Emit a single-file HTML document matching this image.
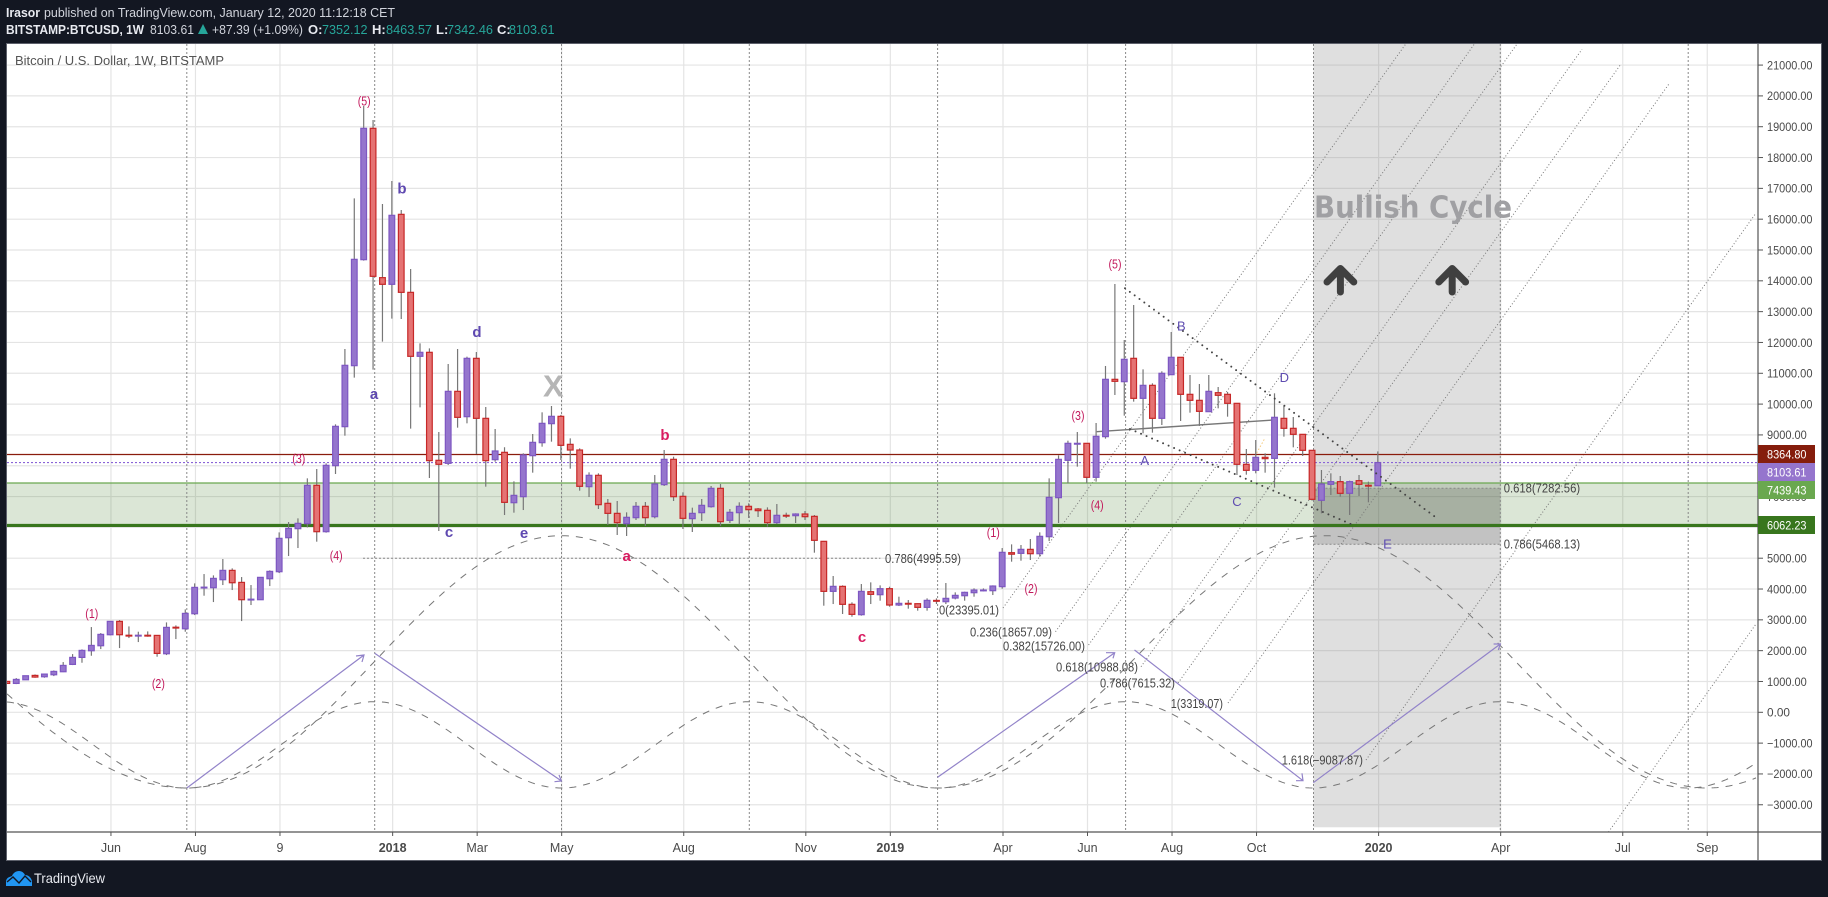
<!DOCTYPE html>
<html lang="en">
<head>
<meta charset="utf-8">
<title>BTCUSD 1W chart</title>
<style>
html,body{margin:0;padding:0;background:#131722;width:1828px;height:897px;overflow:hidden}
svg{display:block;font-family:"Liberation Sans",Arial,sans-serif}
.hd{font-size:13px;fill:#d1d4dc}
.hb{font-size:13px;fill:#e8eaf0;font-weight:bold}
.teal{font-size:13px;fill:#26a69a}
.fib{font-size:12.5px;fill:#444;dominant-baseline:central}
.wave{font-size:13px;fill:#c2185b;text-anchor:middle;dominant-baseline:central}
.crim{font-size:15px;fill:#d81b60;font-weight:bold;text-anchor:middle;dominant-baseline:central}
.pb{font-size:15px;fill:#5e48b0;font-weight:bold;text-anchor:middle;dominant-baseline:central}
.pr{font-size:13px;fill:#5e4cb0;text-anchor:middle;dominant-baseline:central}
.vd{stroke:#888;stroke-width:1;stroke-dasharray:2 2;fill:none}
.fan{stroke:#777;stroke-width:1;stroke-dasharray:1 2.2;fill:none}
.wedge{stroke:#444;stroke-width:2;stroke-dasharray:0 6;stroke-linecap:round;fill:none}
.arrow{stroke:#9283c9;stroke-width:1.2;fill:none}
</style>
</head>
<body>
<svg id="root" width="1828" height="897" viewBox="0 0 1828 897">
  <defs>
    <clipPath id="pane"><rect x="7" y="44" width="1751" height="788"/></clipPath>
  </defs>
  <rect x="0" y="0" width="1828" height="897" fill="#131722"/>

  <g>
    <text x="6" y="17" class="hb" textLength="34" lengthAdjust="spacingAndGlyphs">Irasor</text>
    <text x="44" y="17" class="hd" textLength="351" lengthAdjust="spacingAndGlyphs">published on TradingView.com, January 12, 2020 11:12:18 CET</text>
    <text x="6" y="34" class="hb" textLength="138" lengthAdjust="spacingAndGlyphs">BITSTAMP:BTCUSD, 1W</text>
    <text x="150" y="34" class="hd" textLength="44" lengthAdjust="spacingAndGlyphs">8103.61</text>
    <polygon points="198,34 208,34 203,24" fill="#26a69a"/>
    <text x="212" y="34" class="hd" textLength="91" lengthAdjust="spacingAndGlyphs">+87.39 (+1.09%)</text>
    <text x="308" y="34" class="hb">O:</text>
    <text x="322" y="34" class="teal" textLength="45.5" lengthAdjust="spacingAndGlyphs">7352.12</text>
    <text x="372" y="34" class="hb">H:</text>
    <text x="386" y="34" class="teal" textLength="46" lengthAdjust="spacingAndGlyphs">8463.57</text>
    <text x="436" y="34" class="hb">L:</text>
    <text x="447" y="34" class="teal" textLength="46" lengthAdjust="spacingAndGlyphs">7342.46</text>
    <text x="497" y="34" class="hb">C:</text>
    <text x="509" y="34" class="teal" textLength="45.5" lengthAdjust="spacingAndGlyphs">8103.61</text>
  </g>

  <rect x="6.5" y="43.5" width="1815" height="817" fill="#ffffff" stroke="#5d606b" stroke-width="1"/>

  <g id="grid-layer"></g>

  <rect x="1313.5" y="44" width="186.8" height="783.3" fill="rgba(128,128,128,.25)"/>
  <g id="zone-layer"></g>
  <rect id="fib-rect" x="1313.5" y="488.3" width="186.8" height="56" fill="rgba(0,0,0,.13)"/>

  <g clip-path="url(#pane)">
    <g>
      <line class="vd" x1="186.8" y1="44" x2="186.8" y2="832"/>
      <line class="vd" x1="374.7" y1="44" x2="374.7" y2="832"/>
      <line class="vd" x1="561.5" y1="44" x2="561.5" y2="832"/>
      <line class="vd" x1="749.3" y1="44" x2="749.3" y2="832"/>
      <line class="vd" x1="937.6" y1="44" x2="937.6" y2="832"/>
      <line class="vd" x1="1125.6" y1="44" x2="1125.6" y2="832"/>
      <line class="vd" x1="1313.5" y1="44" x2="1313.5" y2="832"/>
      <line class="vd" x1="1500.3" y1="44" x2="1500.3" y2="832"/>
      <line class="vd" x1="1688.2" y1="44" x2="1688.2" y2="832"/>
    </g>
    <g id="sine-layer"></g>
    <g>
      <line class="fan" x1="1003" y1="608" x2="1405.7" y2="44"/>
      <line class="fan" x1="1055.5" y1="631.7" x2="1474.4" y2="44"/>
      <line class="fan" x1="1088.6" y1="645" x2="1517" y2="44"/>
      <line class="fan" x1="1141" y1="666.7" x2="1582" y2="49.3"/>
      <line class="fan" x1="1178" y1="683" x2="1620.5" y2="64.7"/>
      <line class="fan" x1="1228" y1="703" x2="1668.7" y2="84.3"/>
      <line class="fan" x1="1366" y1="760" x2="1756" y2="213"/>
      <line class="fan" x1="1608.5" y1="832" x2="1756" y2="624"/>
    </g>
    <g>
      <line class="vd" x1="363" y1="558.3" x2="880.4" y2="558.3"/>
      <line class="vd" x1="1313.5" y1="488.3" x2="1500.3" y2="488.3"/>
      <line class="vd" x1="1313.5" y1="544.3" x2="1500.3" y2="544.3"/>
    </g>
    <g>
      <path class="arrow" d="M186.8 788L364 655M356 656L364 655L362 662"/>
      <path class="arrow" d="M374.7 653.3L561.5 781M554.5 781.7L561.5 781L559 775"/>
      <path class="arrow" d="M937.6 777.3L1114.7 652.7M1106 652.7L1114.7 652.7L1113 658.3"/>
      <path class="arrow" d="M1134.5 650L1303 780.7M1296 780.7L1303 780.7L1302 773.3"/>
      <path class="arrow" d="M1313.3 782.7L1500.3 644M1493.6 644L1500.3 644L1498.3 650"/>
    </g>
    <g id="level-layer"></g>
    <line x1="1096.7" y1="431.7" x2="1273.3" y2="420" stroke="#777" stroke-width="1.4"/>
    <line x1="1256.7" y1="453" x2="1265" y2="438" stroke="#f5c97a" stroke-width="1" stroke-dasharray="1.5 2"/>
    <g id="candle-layer"></g>
    <line class="wedge" x1="1125" y1="288.3" x2="1435" y2="516.7"/>
    <line class="wedge" x1="1130" y1="429" x2="1355.5" y2="526"/>
  </g>

  <g>
    <text class="wave" x="364.2" y="101" textLength="13" lengthAdjust="spacingAndGlyphs">(5)</text>
    <text class="wave" x="91.8" y="613.3" textLength="13" lengthAdjust="spacingAndGlyphs">(1)</text>
    <text class="wave" x="158.4" y="683.3" textLength="13" lengthAdjust="spacingAndGlyphs">(2)</text>
    <text class="wave" x="298.8" y="458.3" textLength="13" lengthAdjust="spacingAndGlyphs">(3)</text>
    <text class="wave" x="336.2" y="555.3" textLength="13" lengthAdjust="spacingAndGlyphs">(4)</text>
    <text class="wave" x="993.3" y="532.3" textLength="13" lengthAdjust="spacingAndGlyphs">(1)</text>
    <text class="wave" x="1031" y="588.3" textLength="13" lengthAdjust="spacingAndGlyphs">(2)</text>
    <text class="wave" x="1078" y="415.3" textLength="13" lengthAdjust="spacingAndGlyphs">(3)</text>
    <text class="wave" x="1097.2" y="505" textLength="13" lengthAdjust="spacingAndGlyphs">(4)</text>
    <text class="wave" x="1115" y="264" textLength="13" lengthAdjust="spacingAndGlyphs">(5)</text>
    <text class="crim" x="664.9" y="435.7">b</text>
    <text class="crim" x="626.7" y="556.7">a</text>
    <text class="crim" x="862" y="637.3">c</text>
    <text class="pb" x="374" y="394.3">a</text>
    <text class="pb" x="402" y="189">b</text>
    <text class="pb" x="449" y="532.7">c</text>
    <text class="pb" x="477" y="332.3">d</text>
    <text class="pb" x="524" y="533.3">e</text>
    <text class="pr" x="1144.7" y="460.7">A</text>
    <text class="pr" x="1181.3" y="326">B</text>
    <text class="pr" x="1237" y="501.7">C</text>
    <text class="pr" x="1284.3" y="377.7">D</text>
    <text class="pr" x="1387.5" y="544">E</text>
    <text x="553.3" y="386" font-size="31" font-weight="bold" fill="#b5b5b5" text-anchor="middle" dominant-baseline="central">X</text>
  </g>

  <g>
    <text class="fib" x="885" y="559" textLength="76" lengthAdjust="spacingAndGlyphs">0.786(4995.59)</text>
    <text class="fib" x="939" y="610.7" textLength="60" lengthAdjust="spacingAndGlyphs">0(23395.01)</text>
    <text class="fib" x="970" y="632.7" textLength="82" lengthAdjust="spacingAndGlyphs">0.236(18657.09)</text>
    <text class="fib" x="1003" y="646.7" textLength="82" lengthAdjust="spacingAndGlyphs">0.382(15726.00)</text>
    <text class="fib" x="1056" y="667.7" textLength="82" lengthAdjust="spacingAndGlyphs">0.618(10988.08)</text>
    <text class="fib" x="1100" y="683.7" textLength="75" lengthAdjust="spacingAndGlyphs">0.786(7615.32)</text>
    <text class="fib" x="1170.7" y="704" textLength="52.3" lengthAdjust="spacingAndGlyphs">1(3319.07)</text>
    <text class="fib" x="1281.7" y="760.7" textLength="81.3" lengthAdjust="spacingAndGlyphs">1.618(−9087.87)</text>
    <text class="fib" x="1503.7" y="488.7" textLength="76.4" lengthAdjust="spacingAndGlyphs">0.618(7282.56)</text>
    <text class="fib" x="1503.7" y="544.7" textLength="76.4" lengthAdjust="spacingAndGlyphs">0.786(5468.13)</text>
  </g>

  <text x="1314" y="208" font-family="'DejaVu Sans',sans-serif" font-size="30" font-weight="bold" fill="#a0a0a3" dominant-baseline="central" textLength="198" lengthAdjust="spacingAndGlyphs">Bullish Cycle</text>
  <path d="M1340.4 292V270M1327 282L1340.4 268.5L1353.8 282" fill="none" stroke="#404040" stroke-width="7" stroke-linecap="round" stroke-linejoin="round"/>
  <path d="M1452.2 292V270M1438.8 282L1452.2 268.5L1465.6 282" fill="none" stroke="#404040" stroke-width="7" stroke-linecap="round" stroke-linejoin="round"/>

  <text x="15" y="65" font-size="12.5" fill="#555" textLength="209" lengthAdjust="spacingAndGlyphs">Bitcoin / U.S. Dollar, 1W, BITSTAMP</text>

  <line x1="7" y1="832" x2="1821" y2="832" stroke="#555" stroke-width="1.2"/>
  <line x1="1758" y1="44" x2="1758" y2="860" stroke="#555" stroke-width="1.2"/>
  <g id="time-axis"></g>
  <g id="price-axis"></g>
  <g id="price-tags"></g>

  <g>
    <path d="M6 886V881C7 877 10 877 12 876C13 873 16 871 19 871C22 871 24 873 25 875C28 875 31 877 32 881V886Z" fill="#2196f3"/>
    <path d="M7 882L13 877L19 883L25 876L31 882" fill="none" stroke="#131722" stroke-width="1.4"/>
    <text x="34" y="883" font-size="14" fill="#e8eaf0" textLength="71" lengthAdjust="spacingAndGlyphs">TradingView</text>
  </g>
</svg>

<script>
const opens=[1002,937,1056,1197,1153,1218,1316,1554,1781,1997,2160,2517,2950,2500,2490,2500,2495,1900,2760,2711,3198,4045,4042,4302,4605,4215,3655,3653,4334,4562,5665,5958,6120,7364,5860,8002,9268,11247,14686,18948,14103,13886,16157,13626,11550,11680,8176,8078,10414,9592,11485,9538,8197,8435,6801,6996,8327,8748,9365,9603,8694,8510,7321,7689,6780,6455,6120,6315,6683,6347,7386,8208,7007,6283,6477,6672,7267,6228,6477,6683,6596,6553,6153,6391,6380,6434,6358,5547,3924,4086,3503,3167,3913,3816,4011,3481,3535,3524,3405,3630,3589,3708,3783,3881,3946,3946,4076,5179,5157,5287,5146,5698,6964,8176,8700,8727,7624,8944,10804,10728,11485,10187,10609,9538,10955,11518,10317,10122,9755,10371,10317,10025,8046,7851,8273,8240,9538,9214,9019,8500,6878,7397,7484,7105,7516,7365,7352.12];
const highs=[1010,1110,1186,1229,1240,1359,1630,1889,2041,2766,2571,2950,2993,2787,2615,2625,2495,2917,2820,3339,4183,4486,4443,4973,4670,4389,4129,4378,4605,5838,6174,6293,7591,7894,8078,9343,11788,16677,19673,19218,16493,17239,16298,14383,11971,11809,9095,11301,11788,11539,11690,9906,9192,8600,7494,8403,9030,9733,9938,9650,8889,8564,7786,7754,6921,6856,6488,6823,6823,7699,8511,8294,7137,6640,6921,7343,7407,6596,6813,6780,6629,6650,6758,6477,6456,6531,6402,5560,4422,4119,3568,4162,4216,4119,4075,3751,3643,3535,3697,3697,4195,3892,3913,4022,4020,4119,5330,5449,5428,5622,5839,7591,8337,8813,9095,8730,9387,11237,13897,12080,13216,11128,10674,11063,12340,11520,10944,10652,10944,10555,10393,10030,8543,8835,8403,10350,9949,9582,9020,8510,7862,7754,7667,7516,7700,7484,8463.57];
const lows=[930,915,1056,1121,1121,1175,1305,1532,1608,1835,2051,2495,2084,2409,2279,2452,1803,1857,2376,2614,3155,3783,3577,4129,3967,2960,3480,3653,4096,4518,5070,5330,6001,5536,5828,7732,8975,10857,14654,11117,12026,12772,12761,9203,9895,7602,5882,8024,9235,9376,8381,7321,8132,6401,6477,6563,7775,8619,8781,8186,7905,7191,6985,6596,6077,5753,5720,6239,6044,6293,7343,6856,5947,5850,6207,6640,6044,6142,6099,6304,6337,6023,6110,6304,6142,6239,5179,3459,3513,3189,3102,3135,3513,3621,3427,3448,3362,3297,3297,3513,3513,3664,3621,3751,3920,3805,4011,4887,4919,4941,5049,5557,6142,7429,7970,7429,7484,8879,10296,9625,10079,9052,9073,9322,10950,9452,9722,9290,9750,9863,9592,7700,7710,7754,7775,7289,8944,8597,8316,6867,6456,7051,6996,6402,7018,6813,7342.46];
const closes=[937,1067,1186,1143,1240,1327,1521,1781,2008,2170,2528,2950,2517,2490,2500,2490,1911,2755,2750,3209,4053,4060,4345,4605,4204,3653,3670,4378,4572,5644,5968,6131,7364,5860,8013,9278,11258,14697,18948,14146,13886,16125,13626,11550,11680,8165,8046,10414,9570,11485,9538,8165,8479,6812,7039,8349,8759,9376,9603,8662,8510,7332,7689,6737,6455,6153,6326,6683,6315,7407,8208,6996,6293,6455,6715,7267,6185,6488,6683,6575,6542,6153,6391,6380,6434,6347,5580,3924,4086,3503,3178,3924,3827,4011,3481,3535,3525,3405,3632,3610,3697,3794,3892,3967,3967,4097,5190,5130,5287,5146,5709,6974,8207,8727,8727,7624,8954,10804,10739,11453,10187,10609,9538,10999,11518,10317,10122,9765,10414,10285,10025,8046,7851,8273,8230,9571,9214,9019,8500,6910,7408,7484,7105,7484,7397,7342,8103.61];
const priceTicks=[21000,20000,19000,18000,17000,16000,15000,14000,13000,12000,11000,10000,9000,8000,7000,6000,5000,4000,3000,2000,1000,0,-1000,-2000,-3000];
const timeTickLabels=["Jun","Aug","9","2018","Mar","May","Aug","Nov","2019","Apr","Jun","Aug","Oct","2020","Apr","Jul","Sep"];
const timeTickBars=[11,20,29,41,50,59,72,85,94,106,115,124,133,146,159,172,181];
const yearTickLabels=["2018","2019","2020"];
const tagPrices=[8364.80,8103.61,7439.43,6062.23];
const tagLabels=["8364.80","8103.61","7439.43","6062.23"];

const SVGNS="http://www.w3.org/2000/svg";
function xScale(bar){return 6.86+9.39*bar;}
function yScale(price){return 712.3-0.03082*price;}
function mk(tag,attrs,parent){
  const el=document.createElementNS(SVGNS,tag);
  for(const k in attrs){el.setAttribute(k,attrs[k]);}
  parent.appendChild(el);
  return el;
}
const grid=document.getElementById('grid-layer');
const zone=document.getElementById('zone-layer');
const levels=document.getElementById('level-layer');
const candles=document.getElementById('candle-layer');
const timeAxis=document.getElementById('time-axis');
const priceAxis=document.getElementById('price-axis');
const tags=document.getElementById('price-tags');
const sines=document.getElementById('sine-layer');

priceTicks.forEach(function(p){
  const y=yScale(p);
  const g=mk('line',{x1:7,x2:1758,y1:y,y2:y,stroke:'#e4e4e4','stroke-width':1.2},grid);
  
  
  const t=mk('line',{x1:1758,x2:1763,y1:y,y2:y,stroke:'#555','stroke-width':1},priceAxis);
  
  
  const s=(p<0?'−'+Math.abs(p):String(p))+'.00';
  const w=s.length*5.62+0.5;
  const l=mk('text',{x:1767,y:y+4.3,'font-size':12,fill:'#4a4a4a',textLength:w.toFixed(1),lengthAdjust:'spacingAndGlyphs'},priceAxis);
  
  
  l.textContent=s;
});
timeTickBars.forEach(function(b,i){
  const x=xScale(b)+0.8;
  const g=mk('line',{x1:x,x2:x,y1:44,y2:832,stroke:'#e4e4e4','stroke-width':1.2},grid);
  
  
  const t=mk('line',{x1:x,x2:x,y1:832,y2:836,stroke:'#555','stroke-width':1},timeAxis);
  
  
  const isYear=yearTickLabels.indexOf(timeTickLabels[i])>=0;
  const l=mk('text',{x:x,y:852,'font-size':12.5,'text-anchor':'middle',fill:'#4a4a4a','font-weight':isYear?'bold':'normal'},timeAxis);
  
  
  l.textContent=timeTickLabels[i];
});

// support zone and horizontal levels
const zoneRect=mk('rect',{x:7,width:1751,y:yScale(tagPrices[2]),height:yScale(tagPrices[3])-yScale(tagPrices[2]),fill:'rgba(56,118,29,.18)'},zone);


const zoneTop=mk('line',{x1:7,x2:1758,y1:yScale(tagPrices[2]),y2:yScale(tagPrices[2]),stroke:'#6aa84f','stroke-width':1.2},levels);


const zoneBottom=mk('line',{x1:7,x2:1758,y1:yScale(tagPrices[3]),y2:yScale(tagPrices[3]),stroke:'#38761d','stroke-width':3.2},levels);


const resLine=mk('line',{x1:7,x2:1758,y1:yScale(tagPrices[0]),y2:yScale(tagPrices[0]),stroke:'#8a1c0c','stroke-width':1.2},levels);


const lastLine=mk('line',{x1:7,x2:1758,y1:yScale(tagPrices[1]),y2:yScale(tagPrices[1]),stroke:'#8a64d8','stroke-width':1.2,'stroke-dasharray':'2 2'},levels);



// candles
opens.forEach(function(o,i){
  const c=closes[i];
  const x=xScale(i);
  const up=c>=o;
  const wick=mk('line',{x1:x,x2:x,y1:yScale(highs[i]),y2:yScale(lows[i]),stroke:'#777','stroke-width':1.2},candles);
  
  
  const top=yScale(Math.max(o,c));
  const bot=yScale(Math.min(o,c));
  const body=mk('rect',{x:x-2.85,width:5.7,y:top,height:Math.max(bot-top,0.8),fill:up?'#9575cd':'#e57373',stroke:up?'#7e57c2':'#c62828','stroke-width':1.2},candles);
  
  
});

// axis price tags
const tagColors=['#851d0c','#9575cd','#6aa84f','#38761d'];
tagPrices.forEach(function(p,i){
  const y=[454,472,490,525][i];
  const r=mk('rect',{x:1758,y:y-9,width:57,height:18,fill:tagColors[i]},tags);
  
  
  const t=mk('text',{x:1767,y:y+4.3,'font-size':12,fill:'#fff',textLength:39.5,lengthAdjust:'spacingAndGlyphs'},tags);
  
  
  t.textContent=tagLabels[i];
});

// sine-line drawings: knots are the turning points of each drawn curve
const sineKnotsSmall=[-0.3,186.8,374.7,561.5,749.3,937.6,1125.6,1313.5,1500.3,1688.2,1876];
const sineKnotsLarge=[-243,186.8,561.5,937.6,1325,1707,2090];
function sinePath(knots,firstIsPeak,peakY,troughY){
  let d='';
  for(let x=7;x<=1758;x+=3){
    let k=0;
    while(k<knots.length-2&&x>knots[k+1]){k++;}
    const t=(x-knots[k])/(knots[k+1]-knots[k]);
    const startPeak=(k%2===0)===firstIsPeak;
    const a=startPeak?peakY:troughY;
    const b=startPeak?troughY:peakY;
    const y=a+(b-a)*(1-Math.cos(Math.PI*t))/2;
    d+=(d?'L':'M')+x+' '+y.toFixed(1);
  }
  return d;
}
const sineSmall=mk('path',{d:sinePath(sineKnotsSmall,true,701.7,788),fill:'none',stroke:'#777','stroke-width':1,'stroke-dasharray':'7 7'},sines);


const sineLarge=mk('path',{d:sinePath(sineKnotsLarge,true,535.7,788),fill:'none',stroke:'#777','stroke-width':1,'stroke-dasharray':'7 7'},sines);


</script>
</body>
</html>
